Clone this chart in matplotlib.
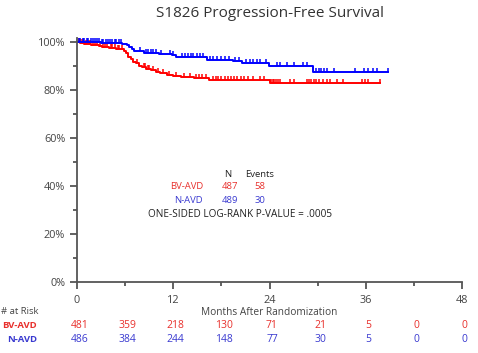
import matplotlib
matplotlib.use('Agg')
import matplotlib.pyplot as plt
import matplotlib.transforms as mtransforms
from matplotlib.ticker import MultipleLocator, FuncFormatter

plt.rcParams['font.family'] = ['Open Sans', 'DejaVu Sans']

# step curves (months, % progression-free)
red_times = [0, 0.4, 0.9, 1.3, 1.8, 2.2, 2.7, 3.1, 3.6, 4.0, 4.5, 4.9, 5.4, 5.8, 6.1, 6.4, 6.7, 7.0,
             7.3, 7.7, 8.1, 8.6, 9.2, 9.8, 10.4, 11.2, 12.0, 13.0, 14.6, 16.4, 19.0, 24.0]
red_surv = [100, 99.6, 99.3, 99.0, 98.8, 98.5, 98.2, 98.0, 97.8, 97.5, 97.3, 97.1, 96.9, 96.4, 95.2,
            93.9, 92.8, 91.8, 91.0, 90.1, 89.4, 88.7, 88.1, 87.6, 87.0, 86.4, 85.8, 85.4, 84.9, 84.3,
            84.0, 82.7]
red_end = 37.8
red_cens = [0.2, 0.5, 0.8, 1.1, 1.4, 1.6, 2.0, 2.3, 2.5, 2.9, 3.3, 3.5, 3.8, 4.2, 4.4, 4.7, 5.1, 5.3,
            5.6, 7.5, 8.3, 8.5, 8.8, 9.0, 9.5, 10.1, 10.7, 11.5, 12.4, 13.3, 14.1, 14.8, 15.2, 15.6,
            16.1, 16.9, 17.3, 17.6, 18.0, 18.4, 18.8, 19.2, 19.6, 20.0, 20.4, 20.8, 21.3, 21.9, 22.8,
            23.3, 24.2, 24.4, 24.6, 24.8, 25.0, 25.3, 26.6, 27.0, 28.6, 28.9, 29.2, 29.5, 29.8, 30.1,
            30.6, 31.1, 31.5, 32.4, 33.2, 35.5, 35.9, 36.3, 37.8]

blue_times = [0, 1.5, 3.0, 4.5, 5.6, 6.2, 6.5, 6.8, 7.1, 7.4, 8.3, 10.2, 11.8, 12.4, 16.2, 19.4,
              20.6, 23.9, 29.4]
blue_surv = [100, 99.8, 99.7, 99.5, 99.3, 98.6, 97.8, 97.0, 96.4, 96.0, 95.5, 94.9, 94.4, 93.9,
             92.6, 91.9, 91.2, 90.0, 87.5]
blue_end = 38.7
blue_cens = [0.2, 0.4, 0.7, 0.9, 1.2, 1.4, 1.7, 2.0, 2.2, 2.5, 2.8, 3.1, 3.3, 3.6, 3.9, 4.1, 4.4, 4.7,
             4.9, 5.2, 5.5, 7.8, 8.6, 8.9, 9.2, 9.5, 9.9, 10.5, 11.6, 12.0, 13.1, 13.4, 13.8, 14.2,
             14.5, 14.9, 15.3, 15.7, 16.6, 17.0, 17.5, 18.0, 18.5, 19.0, 19.7, 20.2, 21.0, 21.5, 21.9,
             22.4, 22.8, 23.5, 24.9, 25.3, 26.2, 27.0, 28.2, 28.6, 29.8, 30.1, 30.4, 30.8, 31.1, 32.0,
             34.7, 35.7, 36.3, 36.9, 37.4, 38.7]

risk_times = [0, 6, 12, 18, 24, 30, 36, 42, 48]
risk_bv = [481, 359, 218, 130, 71, 21, 5, 0, 0]
risk_n = [486, 384, 244, 148, 77, 30, 5, 0, 0]

arms = ['BV-AVD', 'N-AVD']
n_pts = [487, 489]
events = [58, 30]

RED = '#ff0000'
BLUE = '#0000ff'
RED_TXT = '#e8302c'
BLUE_TXT = '#3a3ad0'
GREY = '#444444'


def surv_at(times, surv, t):
    val = surv[0]
    for tt, s in zip(times, surv):
        if tt <= t:
            val = s
    return val


fig = plt.figure(figsize=(4.78, 3.53), dpi=100)
ax = fig.add_axes([0.161, 0.201, 0.806, 0.692])

for times, surv, end, cens, col in [(red_times, red_surv, red_end, red_cens, RED),
                                    (blue_times, blue_surv, blue_end, blue_cens, BLUE)]:
    ax.step(times + [end], surv + [surv[-1]], where='post', color=col, lw=1.4)
    # censor ticks point upward from the curve
    ax.plot(cens, [surv_at(times, surv, c) for c in cens], ls='none', marker=2,
            ms=3.2, mew=1.1, color=col)

ax.set_xlim(0, 48)
ax.set_ylim(0, 101.7)
ax.xaxis.set_major_locator(MultipleLocator(12))
ax.xaxis.set_minor_locator(MultipleLocator(6))
ax.yaxis.set_major_locator(MultipleLocator(20))
ax.yaxis.set_minor_locator(MultipleLocator(10))
ax.yaxis.set_major_formatter(FuncFormatter(lambda v, p: f'{int(v)}%'))
for s in ['top', 'right']:
    ax.spines[s].set_visible(False)
for s in ['left', 'bottom']:
    ax.spines[s].set_color('#555555')
    ax.spines[s].set_linewidth(1.3)
ax.tick_params(which='both', direction='out', color='#555555', width=1.3, labelcolor=GREY,
               labelsize=7.8)
ax.tick_params(which='major', length=5)
ax.tick_params(which='minor', length=3)
ax.tick_params(axis='x', pad=4)
ax.set_xlabel('Months After Randomization', fontsize=7.3, color=GREY, labelpad=1)

fig.text(0.565, 0.963, 'S1826 Progression-Free Survival', ha='center', va='center',
         fontsize=11, color='#333333')

# legend block inside the plot
ax.text(18.8, 44.6, 'N', ha='center', va='center', fontsize=6.8, color='#222222')
ax.text(22.8, 44.6, 'Events', ha='center', va='center', fontsize=6.8, color='#222222')
for i, (arm, n, ev, col) in enumerate(zip(arms, n_pts, events, [RED_TXT, BLUE_TXT])):
    yy = 39.6 - i * 5.8
    ax.text(15.7, yy, arm, ha='right', va='center', fontsize=6.8, color=col)
    ax.text(19.0, yy, str(n), ha='center', va='center', fontsize=6.8, color=col)
    ax.text(22.8, yy, str(ev), ha='center', va='center', fontsize=6.8, color=col)
ax.text(20.3, 28.2, 'ONE-SIDED LOG-RANK P-VALUE = .0005', ha='center', va='center',
        fontsize=7.2, color='#222222')

# numbers at risk
fig.text(0.002, 1 - 311 / 353, '# at Risk', ha='left', va='center', fontsize=6.8, color=GREY)
trans = mtransforms.blended_transform_factory(ax.transData, fig.transFigure)
for label, vals, col, ypix in [('BV-AVD', risk_bv, RED_TXT, 325), ('N-AVD', risk_n, BLUE_TXT, 339)]:
    fy = 1 - ypix / 353
    fig.text(37 / 478, fy, label, ha='right', va='center', fontsize=6.8, color=col,
             fontweight='bold')
    for t, v in zip(risk_times, vals):
        ax.text(t + 0.3, fy, str(v), transform=trans, ha='center', va='center', fontsize=7.5,
                color=col, clip_on=False)

fig.savefig('out.png', dpi=100)
